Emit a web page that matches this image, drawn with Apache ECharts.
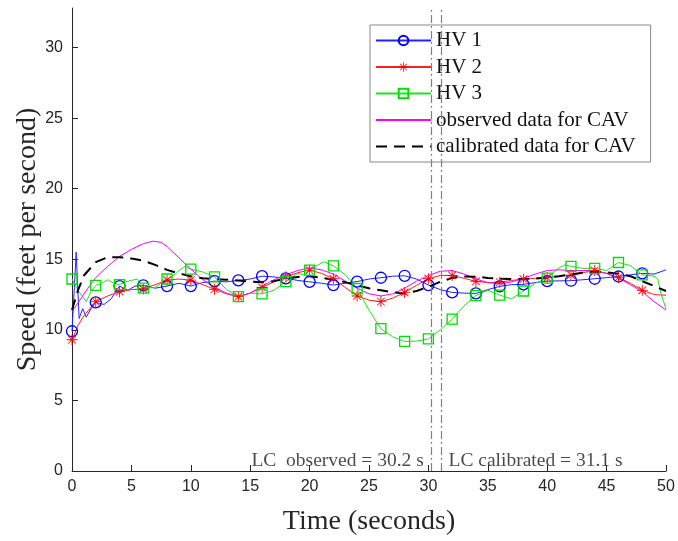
<!DOCTYPE html>
<html><head><meta charset="utf-8">
<script src="https://cdn.jsdelivr.net/npm/echarts@6/dist/echarts.min.js"></script>
<style>html,body{margin:0;padding:0;background:#fff}#c{width:678px;height:541px}</style>
</head><body><div id="c"></div>
<script>
// ---------- data ----------
const seriesNames = ['HV 1', 'HV 2', 'HV 3', 'observed data for CAV', 'calibrated data for CAV'];
const markerTimes = [0,2,4,6,8,10,12,14,16,18,20,22,24,26,28,30,32,34,36,38,40,42,44,46,48];
const xTicks = [0,5,10,15,20,25,30,35,40,45,50];
const yTicks = [0,5,10,15,20,25,30];
const lcObserved = 30.2;
const lcCalibrated = 31.1;

const hv1T = [0,0.2,0.35,0.6,0.9,1.2,1.6,2,2.7,3.3,4,4.7,5.3,6,7,8,9,10,11,12,13,14,15,16,17,18,19,20,21,22,23,24,25,26,27,28,29,30,31,32,33,34,35,36,37,38,39,40,41,42,43,44,45,46,47,48,49,50];
const hv1V = [9.9,13.0,15.5,10.8,11.5,10.9,11.5,11.95,11.8,12.2,13.1,12.8,13.1,13.15,12.95,13.1,13.3,13.1,13.35,13.45,13.4,13.5,13.6,13.8,13.75,13.65,13.5,13.4,13.3,13.17,13.3,13.42,13.6,13.69,13.8,13.83,13.6,13.17,12.85,12.65,12.6,12.58,12.85,13.08,13.2,13.22,13.35,13.45,13.47,13.48,13.55,13.62,13.7,13.78,13.9,14.0,13.95,14.25];

const hv2T = [0,0.5,1,2,3,4,5,6,7,8,9,10,11,12,13,14,15,16,17,18,19,20,21,22,23,24,25,26,27,28,29,30,31,32,33,34,35,36,37,38,39,40,41,42,43,44,45,46,47,48,49,50];
const hv2V = [9.3,10.3,11.0,12.0,12.4,12.7,12.85,12.9,13.2,13.52,13.6,13.52,13.2,12.88,12.55,12.35,12.6,13.0,13.4,13.76,14.05,14.23,14.0,13.62,13.0,12.4,12.1,12.0,12.25,12.65,13.15,13.62,13.85,13.85,13.65,13.43,13.35,13.38,13.5,13.59,13.65,13.7,13.8,13.88,14.05,14.2,14.0,13.7,13.3,12.8,12.5,12.45];

const hv3T = [0,0.5,1.2,1.6,2,2.5,3,3.5,4,4.5,5,5.5,6,7,7.5,8,8.5,9,9.5,10,11,12,13,14,15,16,17,18,19,19.5,20,20.5,21.2,22,23,24,25,26,27,28,29,30,31,32,33,34,35,36,37,38,39,40,41,41.5,42,43,44,45,46,47,48,49,49.3,49.6,50];
const hv3V = [13.6,12.8,12.0,12.7,13.15,13.3,13.55,13.3,13.2,13.4,13.5,13.6,12.95,13.0,13.3,13.6,13.8,14.2,14.5,14.3,14.1,13.75,12.85,12.35,12.6,12.55,12.8,13.42,14.0,13.9,14.23,14.5,14.82,14.53,13.9,12.93,11.4,10.08,9.5,9.18,9.2,9.36,10.0,10.76,11.7,12.43,12.8,12.46,12.2,12.75,13.3,13.67,14.4,14.6,14.5,14.35,14.35,14.2,14.77,14.55,13.9,13.8,13.6,12.5,11.5];

const obsT = [0,0.5,1.3,2,3,4,5,6,6.8,7.5,8,9,10,11,12,13,14,15,16,17,18,19,20,21,22,23,24,25,26,27,28,29,30,31,32,33,34,35,36,37,38,39,40,41,42,43,44,45,46,47,48,49,50];
const obsV = [11.3,11.9,12.9,13.7,14.5,15.2,15.7,16.1,16.28,16.2,15.9,15.1,14.3,13.55,13.0,12.6,12.35,12.6,13.1,13.55,13.9,14.2,14.4,14.25,13.95,13.45,12.95,12.55,12.4,12.55,12.95,13.45,13.85,14.15,14.2,13.95,13.6,13.35,13.25,13.4,13.65,13.95,14.2,14.25,14.2,14.2,14.2,14.0,13.65,13.2,12.7,12.0,11.4];

const calT = [0,0.5,1,2,3,4,5,6,7,8,9,10,11,12,13,14,15,16,17,18,19,20,21,22,23,24,25,26,27,28,29,30,31,32,33,34,35,36,37,38,39,40,41,42,43,44,45,46,47,48,49,50];
const calV = [11.4,12.8,13.85,14.8,15.15,15.15,15.05,14.9,14.6,14.25,14.0,13.8,13.65,13.6,13.55,13.5,13.42,13.38,13.45,13.62,13.75,13.8,13.7,13.55,13.38,13.15,12.95,12.8,12.65,12.58,12.75,13.05,13.4,13.68,13.78,13.76,13.68,13.62,13.6,13.6,13.63,13.7,13.8,13.92,14.05,14.12,14.08,13.98,13.8,13.45,13.1,12.75];

// ---------- build ----------
function build(ts, vs, markers) {
  return ts.map((t, i) => {
    const item = { value: [t, vs[i]] };
    if (markers && markerTimes.indexOf(t) < 0) item.symbol = 'none';
    return item;
  });
}
const asterisk = 'path://M9.2,0 L10.8,0 L10.8,20 L9.2,20 Z M0,9.2 L20,9.2 L20,10.8 L0,10.8 Z M2.5,3.6 L3.6,2.5 L17.5,16.4 L16.4,17.5 Z M16.4,2.5 L17.5,3.6 L3.6,17.5 L2.5,16.4 Z';
const serif = '"Liberation Serif","Times New Roman",serif';
const sans = '"Liberation Sans",Arial,sans-serif';
const noSymbol = { color: 'rgba(0,0,0,0)', borderColor: 'rgba(0,0,0,0)', borderWidth: 0 };

const chart = echarts.init(document.getElementById('c'), null, { renderer: 'canvas' });
chart.setOption({
  animation: false,
  backgroundColor: '#fff',
  grid: { left: 72, right: 12, top: 8, bottom: 68, containLabel: false },
  xAxis: {
    type: 'value', min: 0, max: 50, interval: 5,
    name: 'Time (seconds)', nameLocation: 'middle', nameGap: 37,
    nameTextStyle: { fontFamily: serif, fontSize: 28, color: '#262626' },
    axisLine: { show: true, lineStyle: { color: '#262626', width: 1 } },
    axisTick: { show: true, inside: true, length: 6, lineStyle: { color: '#262626' }, customValues: xTicks },
    axisLabel: { fontFamily: sans, fontSize: 16, color: '#262626', margin: 8, customValues: xTicks },
    splitLine: { show: false }
  },
  yAxis: {
    type: 'value', min: 0, max: 32.8,
    name: 'Speed (feet per second)', nameLocation: 'middle', nameGap: 30, nameMoveOverlap: false,
    nameTextStyle: { fontFamily: serif, fontSize: 28, color: '#262626' },
    axisLine: { show: true, lineStyle: { color: '#262626', width: 1 } },
    axisTick: { show: true, inside: true, length: 6, lineStyle: { color: '#262626' }, customValues: yTicks },
    axisLabel: { fontFamily: sans, fontSize: 16, color: '#262626', margin: 9, customValues: yTicks },
    splitLine: { show: false }
  },
  legend: {
    data: [
      { name: seriesNames[0] },
      { name: seriesNames[1] },
      { name: seriesNames[2] },
      { name: seriesNames[3], itemStyle: noSymbol },
      { name: seriesNames[4], itemStyle: noSymbol }
    ],
    orient: 'vertical', left: 370, top: 25,
    itemWidth: 55, itemHeight: 12, itemGap: 5.5,
    padding: [5, 15, 5, 5],
    borderColor: '#8a8a8a', borderWidth: 1, backgroundColor: '#fff',
    textStyle: { fontFamily: serif, fontSize: 21, color: '#111' }
  },
  series: [
    {
      name: seriesNames[0], type: 'line', data: build(hv1T, hv1V, true),
      symbol: 'circle', symbolSize: 11, showSymbol: true, showAllSymbol: true,
      lineStyle: { color: '#2222ff', width: 1 },
      itemStyle: { color: 'rgba(0,0,0,0)', borderColor: '#0000ff', borderWidth: 1.3 }
    },
    {
      name: seriesNames[1], type: 'line', data: build(hv2T, hv2V, true),
      symbol: asterisk, symbolSize: 11, showSymbol: true, showAllSymbol: true,
      lineStyle: { color: '#ff2020', width: 1 },
      itemStyle: { color: '#ff0000', borderWidth: 0 }
    },
    {
      name: seriesNames[2], type: 'line', data: build(hv3T, hv3V, true),
      symbol: 'rect', symbolSize: 10, showSymbol: true, showAllSymbol: true,
      lineStyle: { color: '#22e022', width: 1 },
      itemStyle: { color: 'rgba(0,0,0,0)', borderColor: '#00dd00', borderWidth: 1.3 }
    },
    {
      name: seriesNames[3], type: 'line', data: build(obsT, obsV, false),
      symbol: 'none', lineStyle: { color: '#ff00ff', width: 1 }, itemStyle: { color: '#ff00ff' }
    },
    {
      name: seriesNames[4], type: 'line', data: build(calT, calV, false),
      symbol: 'none', lineStyle: { color: '#000', width: 2, type: [11, 7] }, itemStyle: { color: '#000' }
    },
    {
      name: 'lc', type: 'scatter', symbolSize: 0, silent: true,
      data: [
        { value: [lcObserved, 0.75], label: { position: 'left', formatter: 'LC  observed = ' + lcObserved + ' s' } },
        { value: [lcCalibrated, 0.75], label: { position: 'right', formatter: 'LC calibrated = ' + lcCalibrated + ' s' } }
      ],
      label: { show: true, distance: 7, fontFamily: serif, fontSize: 19.5, color: '#1a1a1a' },
      markLine: {
        silent: true, symbol: 'none', label: { show: false },
        lineStyle: { color: '#808080', width: 1.2, type: [8, 3, 2, 3] },
        data: [{ xAxis: lcObserved }, { xAxis: lcCalibrated }]
      }
    }
  ]
});
</script></body></html>
